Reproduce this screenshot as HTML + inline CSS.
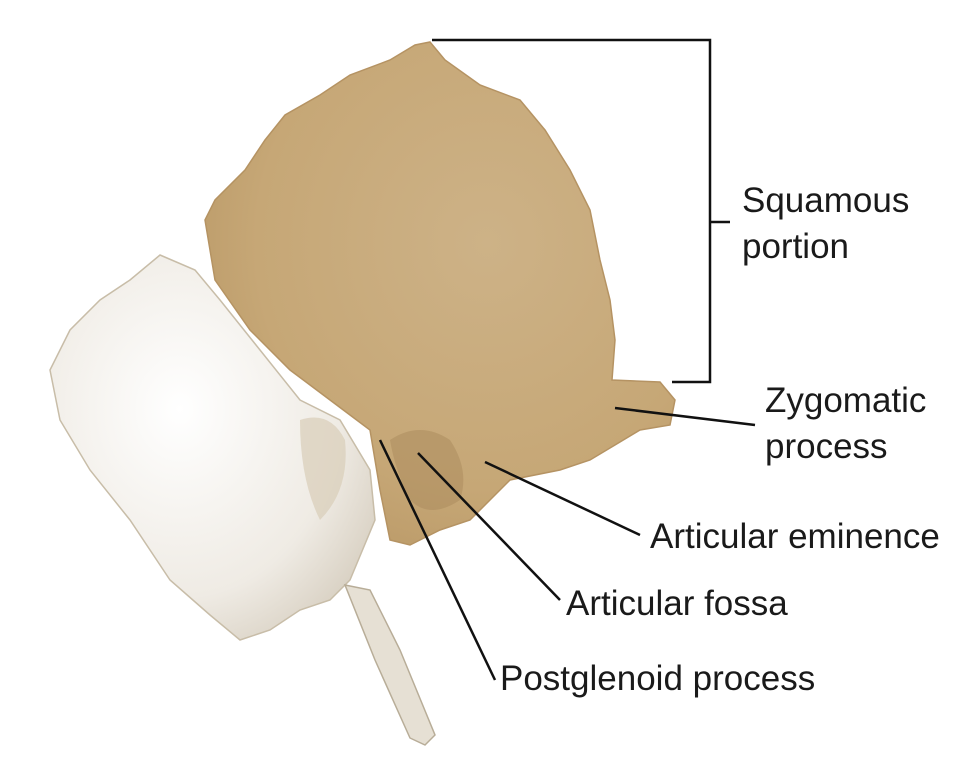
<!DOCTYPE html>
<html><head><meta charset="utf-8"><style>
html,body{margin:0;padding:0;background:#fff;}
svg{display:block}
text{font-family:"Liberation Sans",Arial,sans-serif;font-size:35px;fill:#1a1a1a}
</style></head><body>
<svg width="958" height="765" viewBox="0 0 958 765" xmlns="http://www.w3.org/2000/svg">
<defs>
<radialGradient id="tan" cx="0.6" cy="0.4" r="0.7">
<stop offset="0" stop-color="#cdb287"/><stop offset="0.7" stop-color="#c6a776"/><stop offset="1" stop-color="#b99866"/>
</radialGradient>
<radialGradient id="wh" cx="0.4" cy="0.4" r="0.7">
<stop offset="0" stop-color="#ffffff"/><stop offset="0.7" stop-color="#efebe4"/><stop offset="1" stop-color="#d8d0c2"/>
</radialGradient>
</defs>
<path fill="url(#tan)" stroke="#b59363" stroke-width="1.5" d="M430,42 L445,60 L480,85 L520,100 L545,130 L570,170 L590,210 L600,260 L610,300 L615,340 L612,380 L660,382 L675,400 L670,425 L640,430 L615,445 L590,460 L560,470 L510,480 L490,500 L470,520 L440,530 L410,545 L390,540 L380,490 L370,430 L330,400 L290,370 L250,330 L215,280 L205,220 L215,200 L245,170 L265,140 L285,115 L320,95 L350,75 L390,60 L415,45 Z"/>
<path fill="#a98a5c" opacity="0.5" d="M390,440 Q420,420 450,440 Q470,470 460,500 Q430,520 410,500 Q395,470 390,440 Z"/>
<path fill="url(#wh)" stroke="#c8bda8" stroke-width="1.5" d="M160,255 L195,270 L220,300 L260,350 L300,400 L340,420 L370,470 L375,520 L350,580 L330,600 L300,610 L270,630 L240,640 L210,615 L170,580 L130,520 L90,470 L60,420 L50,370 L70,330 L100,300 L130,280 Z"/>
<path fill="#d9cdb8" opacity="0.7" d="M300,420 Q330,410 345,440 Q350,490 320,520 Q300,480 300,420 Z"/>
<path fill="#e6e0d4" stroke="#b8ad98" stroke-width="1.5" d="M345,585 L370,590 L400,650 L435,735 L425,745 L410,738 L375,660 Z"/>
<g stroke="#111" stroke-width="2.5" fill="none">
<polyline points="432,40 710,40 710,382 672,382"/>
<line x1="710" y1="222" x2="730" y2="222"/>
<line x1="615" y1="408" x2="755" y2="425"/>
<line x1="485" y1="462" x2="640" y2="535"/>
<line x1="418" y1="453" x2="560" y2="600"/>
<line x1="380" y1="440" x2="495" y2="680"/>
</g>
<text x="742" y="212">Squamous</text>
<text x="742" y="258">portion</text>
<text x="765" y="412">Zygomatic</text>
<text x="765" y="458">process</text>
<text x="650" y="548">Articular eminence</text>
<text x="566" y="615">Articular fossa</text>
<text x="500" y="690">Postglenoid process</text>
</svg>
</body></html>
